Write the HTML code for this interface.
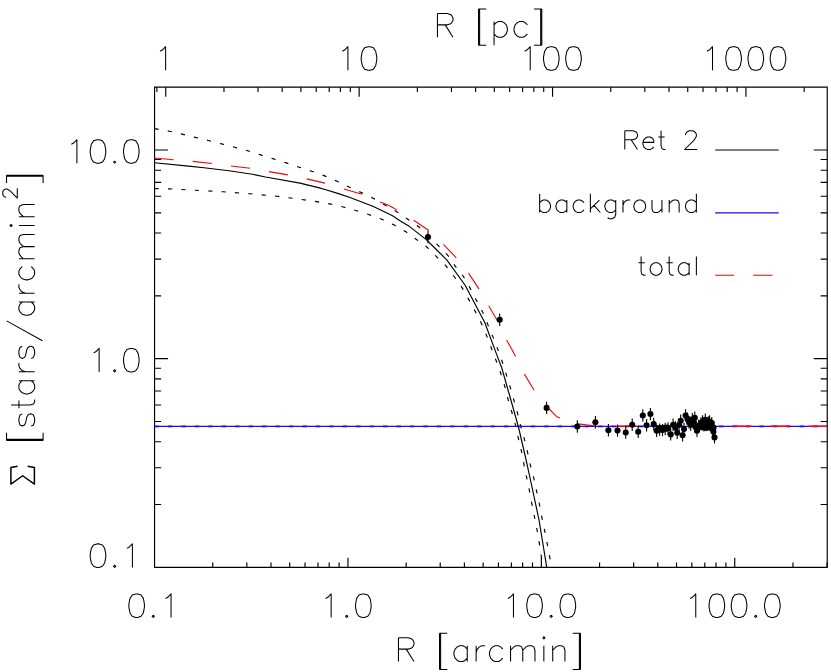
<!DOCTYPE html>
<html><head><meta charset="utf-8"><title>Ret 2 surface density profile</title>
<style>
html,body{margin:0;padding:0;background:#fff;}
body{width:831px;height:672px;overflow:hidden;font-family:"Liberation Sans",sans-serif;}
svg{display:block;}
</style></head><body>
<svg width="831" height="672" viewBox="0 0 831 672">
<g fill="none" stroke="#000" stroke-width="1.05" stroke-linecap="butt" stroke-linejoin="round">
<path d="M160.06 51.21 L162.28 50.09 L165.61 46.73 L165.61 70.25"/>
<path d="M342.36 51.21 L344.58 50.09 L347.91 46.73 L347.91 70.25 M367.89 46.73 L364.56 47.85 L362.34 51.21 L361.23 56.81 L361.23 60.17 L362.34 65.77 L364.56 69.13 L367.89 70.25 L370.11 70.25 L373.44 69.13 L375.66 65.77 L376.77 60.17 L376.77 56.81 L375.66 51.21 L373.44 47.85 L370.11 46.73 L367.89 46.73"/>
<path d="M524.66 51.21 L526.88 50.09 L530.21 46.73 L530.21 70.25 M550.19 46.73 L546.86 47.85 L544.64 51.21 L543.53 56.81 L543.53 60.17 L544.64 65.77 L546.86 69.13 L550.19 70.25 L552.41 70.25 L555.74 69.13 L557.96 65.77 L559.07 60.17 L559.07 56.81 L557.96 51.21 L555.74 47.85 L552.41 46.73 L550.19 46.73 M572.39 46.73 L569.06 47.85 L566.84 51.21 L565.73 56.81 L565.73 60.17 L566.84 65.77 L569.06 69.13 L572.39 70.25 L574.61 70.25 L577.94 69.13 L580.16 65.77 L581.27 60.17 L581.27 56.81 L580.16 51.21 L577.94 47.85 L574.61 46.73 L572.39 46.73"/>
<path d="M706.96 51.21 L709.18 50.09 L712.51 46.73 L712.51 70.25 M732.49 46.73 L729.16 47.85 L726.94 51.21 L725.83 56.81 L725.83 60.17 L726.94 65.77 L729.16 69.13 L732.49 70.25 L734.71 70.25 L738.04 69.13 L740.26 65.77 L741.37 60.17 L741.37 56.81 L740.26 51.21 L738.04 47.85 L734.71 46.73 L732.49 46.73 M754.69 46.73 L751.36 47.85 L749.14 51.21 L748.03 56.81 L748.03 60.17 L749.14 65.77 L751.36 69.13 L754.69 70.25 L756.91 70.25 L760.24 69.13 L762.46 65.77 L763.57 60.17 L763.57 56.81 L762.46 51.21 L760.24 47.85 L756.91 46.73 L754.69 46.73 M776.89 46.73 L773.56 47.85 L771.34 51.21 L770.23 56.81 L770.23 60.17 L771.34 65.77 L773.56 69.13 L776.89 70.25 L779.11 70.25 L782.44 69.13 L784.66 65.77 L785.77 60.17 L785.77 56.81 L784.66 51.21 L782.44 47.85 L779.11 46.73 L776.89 46.73"/>
<path d="M135.54 593.93 L132.21 595.05 L129.99 598.41 L128.88 604.01 L128.88 607.37 L129.99 612.97 L132.21 616.33 L135.54 617.45 L137.76 617.45 L141.09 616.33 L143.31 612.97 L144.42 607.37 L144.42 604.01 L143.31 598.41 L141.09 595.05 L137.76 593.93 L135.54 593.93 M153.3 615.21 L152.19 616.33 L153.3 617.45 L154.41 616.33 L153.3 615.21 M165.51 598.41 L167.73 597.29 L171.06 593.93 L171.06 617.45"/>
<path d="M325.61 598.41 L327.83 597.29 L331.16 593.93 L331.16 617.45 M346.7 615.21 L345.59 616.33 L346.7 617.45 L347.81 616.33 L346.7 615.21 M362.24 593.93 L358.91 595.05 L356.69 598.41 L355.58 604.01 L355.58 607.37 L356.69 612.97 L358.91 616.33 L362.24 617.45 L364.46 617.45 L367.79 616.33 L370.01 612.97 L371.12 607.37 L371.12 604.01 L370.01 598.41 L367.79 595.05 L364.46 593.93 L362.24 593.93"/>
<path d="M507.91 598.41 L510.13 597.29 L513.46 593.93 L513.46 617.45 M533.44 593.93 L530.11 595.05 L527.89 598.41 L526.78 604.01 L526.78 607.37 L527.89 612.97 L530.11 616.33 L533.44 617.45 L535.66 617.45 L538.99 616.33 L541.21 612.97 L542.32 607.37 L542.32 604.01 L541.21 598.41 L538.99 595.05 L535.66 593.93 L533.44 593.93 M551.2 615.21 L550.09 616.33 L551.2 617.45 L552.31 616.33 L551.2 615.21 M566.74 593.93 L563.41 595.05 L561.19 598.41 L560.08 604.01 L560.08 607.37 L561.19 612.97 L563.41 616.33 L566.74 617.45 L568.96 617.45 L572.29 616.33 L574.51 612.97 L575.62 607.37 L575.62 604.01 L574.51 598.41 L572.29 595.05 L568.96 593.93 L566.74 593.93"/>
<path d="M690.21 598.41 L692.43 597.29 L695.76 593.93 L695.76 617.45 M715.74 593.93 L712.41 595.05 L710.19 598.41 L709.08 604.01 L709.08 607.37 L710.19 612.97 L712.41 616.33 L715.74 617.45 L717.96 617.45 L721.29 616.33 L723.51 612.97 L724.62 607.37 L724.62 604.01 L723.51 598.41 L721.29 595.05 L717.96 593.93 L715.74 593.93 M737.94 593.93 L734.61 595.05 L732.39 598.41 L731.28 604.01 L731.28 607.37 L732.39 612.97 L734.61 616.33 L737.94 617.45 L740.16 617.45 L743.49 616.33 L745.71 612.97 L746.82 607.37 L746.82 604.01 L745.71 598.41 L743.49 595.05 L740.16 593.93 L737.94 593.93 M755.7 615.21 L754.59 616.33 L755.7 617.45 L756.81 616.33 L755.7 615.21 M771.24 593.93 L767.91 595.05 L765.69 598.41 L764.58 604.01 L764.58 607.37 L765.69 612.97 L767.91 616.33 L771.24 617.45 L773.46 617.45 L776.79 616.33 L779.01 612.97 L780.12 607.37 L780.12 604.01 L779.01 598.41 L776.79 595.05 L773.46 593.93 L771.24 593.93"/>
<path d="M71.36 144.2 L73.58 143.08 L76.91 139.72 L76.91 163.24 M96.89 139.72 L93.56 140.84 L91.34 144.2 L90.23 149.8 L90.23 153.16 L91.34 158.76 L93.56 162.12 L96.89 163.24 L99.11 163.24 L102.44 162.12 L104.66 158.76 L105.77 153.16 L105.77 149.8 L104.66 144.2 L102.44 140.84 L99.11 139.72 L96.89 139.72 M114.65 161 L113.54 162.12 L114.65 163.24 L115.76 162.12 L114.65 161 M130.19 139.72 L126.86 140.84 L124.64 144.2 L123.53 149.8 L123.53 153.16 L124.64 158.76 L126.86 162.12 L130.19 163.24 L132.41 163.24 L135.74 162.12 L137.96 158.76 L139.07 153.16 L139.07 149.8 L137.96 144.2 L135.74 140.84 L132.41 139.72 L130.19 139.72"/>
<path d="M93.56 352.88 L95.78 351.76 L99.11 348.4 L99.11 371.92 M114.65 369.68 L113.54 370.8 L114.65 371.92 L115.76 370.8 L114.65 369.68 M130.19 348.4 L126.86 349.52 L124.64 352.88 L123.53 358.48 L123.53 361.84 L124.64 367.44 L126.86 370.8 L130.19 371.92 L132.41 371.92 L135.74 370.8 L137.96 367.44 L139.07 361.84 L139.07 358.48 L137.96 352.88 L135.74 349.52 L132.41 348.4 L130.19 348.4"/>
<path d="M96.89 543.88 L93.56 545 L91.34 548.36 L90.23 553.96 L90.23 557.32 L91.34 562.92 L93.56 566.28 L96.89 567.4 L99.11 567.4 L102.44 566.28 L104.66 562.92 L105.77 557.32 L105.77 553.96 L104.66 548.36 L102.44 545 L99.11 543.88 L96.89 543.88 M114.65 565.16 L113.54 566.28 L114.65 567.4 L115.76 566.28 L114.65 565.16 M126.86 548.36 L129.08 547.24 L132.41 543.88 L132.41 567.4"/>
<path d="M437.44 13.57 L437.44 37.3 M437.44 13.57 L447.43 13.57 L450.76 14.7 L451.87 15.83 L452.98 18.09 L452.98 20.35 L451.87 22.61 L450.76 23.74 L447.43 24.87 L437.44 24.87 M445.21 24.87 L452.98 37.3 M478.51 9.05 L478.51 45.21 M479.62 9.05 L479.62 45.21 M478.51 9.05 L486.28 9.05 M478.51 45.21 L486.28 45.21 M494.05 21.48 L494.05 45.21 M494.05 24.87 L496.27 22.61 L498.49 21.48 L501.82 21.48 L504.04 22.61 L506.26 24.87 L507.37 28.26 L507.37 30.52 L506.26 33.91 L504.04 36.17 L501.82 37.3 L498.49 37.3 L496.27 36.17 L494.05 33.91 M527.35 24.87 L525.13 22.61 L522.91 21.48 L519.58 21.48 L517.36 22.61 L515.14 24.87 L514.03 28.26 L514.03 30.52 L515.14 33.91 L517.36 36.17 L519.58 37.3 L522.91 37.3 L525.13 36.17 L527.35 33.91 M540.67 9.05 L540.67 45.21 M541.78 9.05 L541.78 45.21 M534.01 9.05 L541.78 9.05 M534.01 45.21 L541.78 45.21"/>
<path d="M398.44 637.82 L398.44 661.55 M398.44 637.82 L408.43 637.82 L411.76 638.95 L412.87 640.08 L413.98 642.34 L413.98 644.6 L412.87 646.86 L411.76 647.99 L408.43 649.12 L398.44 649.12 M406.21 649.12 L413.98 661.55 M439.51 633.3 L439.51 669.46 M440.62 633.3 L440.62 669.46 M439.51 633.3 L447.28 633.3 M439.51 669.46 L447.28 669.46 M467.26 645.73 L467.26 661.55 M467.26 649.12 L465.04 646.86 L462.82 645.73 L459.49 645.73 L457.27 646.86 L455.05 649.12 L453.94 652.51 L453.94 654.77 L455.05 658.16 L457.27 660.42 L459.49 661.55 L462.82 661.55 L465.04 660.42 L467.26 658.16 M476.14 645.73 L476.14 661.55 M476.14 652.51 L477.25 649.12 L479.47 646.86 L481.69 645.73 L485.02 645.73 M502.78 649.12 L500.56 646.86 L498.34 645.73 L495.01 645.73 L492.79 646.86 L490.57 649.12 L489.46 652.51 L489.46 654.77 L490.57 658.16 L492.79 660.42 L495.01 661.55 L498.34 661.55 L500.56 660.42 L502.78 658.16 M510.55 645.73 L510.55 661.55 M510.55 650.25 L513.88 646.86 L516.1 645.73 L519.43 645.73 L521.65 646.86 L522.76 650.25 L522.76 661.55 M522.76 650.25 L526.09 646.86 L528.31 645.73 L531.64 645.73 L533.86 646.86 L534.97 650.25 L534.97 661.55 M542.74 637.82 L543.85 638.95 L544.96 637.82 L543.85 636.69 L542.74 637.82 M543.85 645.73 L543.85 661.55 M552.73 645.73 L552.73 661.55 M552.73 650.25 L556.06 646.86 L558.28 645.73 L561.61 645.73 L563.83 646.86 L564.94 650.25 L564.94 661.55 M579.37 633.3 L579.37 669.46 M580.48 633.3 L580.48 669.46 M572.71 633.3 L580.48 633.3 M572.71 669.46 L580.48 669.46"/>
<path d="M17.6 466.32 L10.88 467.43 L10.88 484.08 L22.64 475.75 L34.4 484.08 L34.4 467.43 L27.68 466.32" stroke-width="1.5"/>
<path d="M6.54 440.47 L43.1 440.47 M6.54 439.36 L43.1 439.36 M6.54 440.47 L6.54 432.72 M43.1 440.47 L43.1 432.72"/>
<path d="M22.28 413.88 L20.04 414.99 L18.92 418.32 L18.92 421.64 L20.04 424.96 L22.28 426.07 L24.52 424.96 L25.64 422.75 L26.76 417.21 L27.88 414.99 L30.12 413.88 L31.24 413.88 L33.48 414.99 L34.6 418.32 L34.6 421.64 L33.48 424.96 L31.24 426.07 M11.08 405.02 L30.12 405.02 L33.48 403.92 L34.6 401.7 L34.6 399.48 M18.92 408.35 L18.92 400.59 M18.92 380.65 L34.6 380.65 M22.28 380.65 L20.04 382.87 L18.92 385.08 L18.92 388.41 L20.04 390.62 L22.28 392.84 L25.64 393.95 L27.88 393.95 L31.24 392.84 L33.48 390.62 L34.6 388.41 L34.6 385.08 L33.48 382.87 L31.24 380.65 M18.92 371.79 L34.6 371.79 M25.64 371.79 L22.28 370.68 L20.04 368.47 L18.92 366.25 L18.92 362.93 M22.28 346.31 L20.04 347.42 L18.92 350.75 L18.92 354.07 L20.04 357.39 L22.28 358.5 L24.52 357.39 L25.64 355.18 L26.76 349.64 L27.88 347.42 L30.12 346.31 L31.24 346.31 L33.48 347.42 L34.6 350.75 L34.6 354.07 L33.48 357.39 L31.24 358.5 M6.6 320.84 L42.44 340.78 M18.92 302.01 L34.6 302.01 M22.28 302.01 L20.04 304.22 L18.92 306.44 L18.92 309.76 L20.04 311.98 L22.28 314.19 L25.64 315.3 L27.88 315.3 L31.24 314.19 L33.48 311.98 L34.6 309.76 L34.6 306.44 L33.48 304.22 L31.24 302.01 M18.92 293.15 L34.6 293.15 M25.64 293.15 L22.28 292.04 L20.04 289.82 L18.92 287.61 L18.92 284.28 M22.28 266.56 L20.04 268.78 L18.92 270.99 L18.92 274.31 L20.04 276.53 L22.28 278.75 L25.64 279.85 L27.88 279.85 L31.24 278.75 L33.48 276.53 L34.6 274.31 L34.6 270.99 L33.48 268.78 L31.24 266.56 M18.92 258.81 L34.6 258.81 M23.4 258.81 L20.04 255.48 L18.92 253.27 L18.92 249.94 L20.04 247.73 L23.4 246.62 L34.6 246.62 M23.4 246.62 L20.04 243.3 L18.92 241.08 L18.92 237.76 L20.04 235.54 L23.4 234.44 L34.6 234.44 M11.08 226.68 L12.2 225.58 L11.08 224.47 L9.96 225.58 L11.08 226.68 M18.92 225.58 L34.6 225.58 M18.92 216.71 L34.6 216.71 M23.4 216.71 L20.04 213.39 L18.92 211.18 L18.92 207.85 L20.04 205.64 L23.4 204.53 L34.6 204.53"/>
<path d="M6.26 197.34 L5.57 197.34 L4.19 196.65 L3.5 195.96 L2.81 194.58 L2.81 191.82 L3.5 190.44 L4.19 189.75 L5.57 189.06 L6.95 189.06 L8.33 189.75 L10.4 191.13 L17.3 198.03 L17.3 188.37"/>
<path d="M6.54 176.33 L43.1 176.33 M6.54 175.22 L43.1 175.22 M6.54 182.98 L6.54 175.22 M43.1 182.98 L43.1 175.22"/>
<path d="M624.8 130.81 L624.8 149.5 M624.8 130.81 L632.96 130.81 L635.67 131.7 L636.58 132.59 L637.49 134.37 L637.49 136.15 L636.58 137.93 L635.67 138.82 L632.96 139.71 L624.8 139.71 M631.14 139.71 L637.49 149.5 M642.92 142.38 L653.79 142.38 L653.79 140.6 L652.89 138.82 L651.98 137.93 L650.17 137.04 L647.45 137.04 L645.64 137.93 L643.83 139.71 L642.92 142.38 L642.92 144.16 L643.83 146.83 L645.64 148.61 L647.45 149.5 L650.17 149.5 L651.98 148.61 L653.79 146.83 M661.04 130.81 L661.04 145.94 L661.95 148.61 L663.76 149.5 L665.57 149.5 M658.32 137.04 L664.67 137.04 M685.5 135.26 L685.5 134.37 L686.41 132.59 L687.32 131.7 L689.13 130.81 L692.75 130.81 L694.56 131.7 L695.47 132.59 L696.38 134.37 L696.38 136.15 L695.47 137.93 L693.66 140.6 L684.6 149.5 L697.28 149.5"/>
<path d="M539.64 193.81 L539.64 212.5 M539.64 202.71 L541.45 200.93 L543.26 200.04 L545.98 200.04 L547.79 200.93 L549.6 202.71 L550.51 205.38 L550.51 207.16 L549.6 209.83 L547.79 211.61 L545.98 212.5 L543.26 212.5 L541.45 211.61 L539.64 209.83 M566.82 200.04 L566.82 212.5 M566.82 202.71 L565.01 200.93 L563.19 200.04 L560.48 200.04 L558.66 200.93 L556.85 202.71 L555.95 205.38 L555.95 207.16 L556.85 209.83 L558.66 211.61 L560.48 212.5 L563.19 212.5 L565.01 211.61 L566.82 209.83 M584.03 202.71 L582.22 200.93 L580.41 200.04 L577.69 200.04 L575.88 200.93 L574.07 202.71 L573.16 205.38 L573.16 207.16 L574.07 209.83 L575.88 211.61 L577.69 212.5 L580.41 212.5 L582.22 211.61 L584.03 209.83 M590.37 193.81 L590.37 212.5 M599.43 200.04 L590.37 208.94 M594 205.38 L600.34 212.5 M615.74 200.04 L615.74 214.28 L614.84 216.95 L613.93 217.84 L612.12 218.73 L609.4 218.73 L607.59 217.84 M615.74 202.71 L613.93 200.93 L612.12 200.04 L609.4 200.04 L607.59 200.93 L605.78 202.71 L604.87 205.38 L604.87 207.16 L605.78 209.83 L607.59 211.61 L609.4 212.5 L612.12 212.5 L613.93 211.61 L615.74 209.83 M622.99 200.04 L622.99 212.5 M622.99 205.38 L623.9 202.71 L625.71 200.93 L627.52 200.04 L630.24 200.04 M638.39 200.04 L636.58 200.93 L634.77 202.71 L633.86 205.38 L633.86 207.16 L634.77 209.83 L636.58 211.61 L638.39 212.5 L641.11 212.5 L642.92 211.61 L644.73 209.83 L645.64 207.16 L645.64 205.38 L644.73 202.71 L642.92 200.93 L641.11 200.04 L638.39 200.04 M651.98 200.04 L651.98 208.94 L652.89 211.61 L654.7 212.5 L657.42 212.5 L659.23 211.61 L661.95 208.94 M661.95 200.04 L661.95 212.5 M669.2 200.04 L669.2 212.5 M669.2 203.6 L671.91 200.93 L673.73 200.04 L676.44 200.04 L678.26 200.93 L679.16 203.6 L679.16 212.5 M696.38 193.81 L696.38 212.5 M696.38 202.71 L694.56 200.93 L692.75 200.04 L690.03 200.04 L688.22 200.93 L686.41 202.71 L685.5 205.38 L685.5 207.16 L686.41 209.83 L688.22 211.61 L690.03 212.5 L692.75 212.5 L694.56 211.61 L696.38 209.83"/>
<path d="M641.11 256.51 L641.11 271.64 L642.02 274.31 L643.83 275.2 L645.64 275.2 M638.39 262.74 L644.73 262.74 M654.7 262.74 L652.89 263.63 L651.08 265.41 L650.17 268.08 L650.17 269.86 L651.08 272.53 L652.89 274.31 L654.7 275.2 L657.42 275.2 L659.23 274.31 L661.04 272.53 L661.95 269.86 L661.95 268.08 L661.04 265.41 L659.23 263.63 L657.42 262.74 L654.7 262.74 M669.2 256.51 L669.2 271.64 L670.1 274.31 L671.91 275.2 L673.73 275.2 M666.48 262.74 L672.82 262.74 M689.13 262.74 L689.13 275.2 M689.13 265.41 L687.32 263.63 L685.5 262.74 L682.79 262.74 L680.97 263.63 L679.16 265.41 L678.26 268.08 L678.26 269.86 L679.16 272.53 L680.97 274.31 L682.79 275.2 L685.5 275.2 L687.32 274.31 L689.13 272.53 M696.38 256.51 L696.38 275.2"/>
</g>
<g fill="none" stroke="#000" stroke-width="1.15" stroke-linecap="butt">
<path d="M154.55 87.15 H827.25 V567.35 H154.55 Z"/>
<path d="M212.77 567.35v-4.8 M246.83 567.35v-4.8 M270.99 567.35v-4.8 M289.73 567.35v-4.8 M305.04 567.35v-4.8 M317.99 567.35v-4.8 M329.21 567.35v-4.8 M339.1 567.35v-4.8 M347.95 567.35v-9.6 M406.17 567.35v-4.8 M440.23 567.35v-4.8 M464.39 567.35v-4.8 M483.13 567.35v-4.8 M498.44 567.35v-4.8 M511.39 567.35v-4.8 M522.61 567.35v-4.8 M532.5 567.35v-4.8 M541.35 567.35v-9.6 M599.57 567.35v-4.8 M633.63 567.35v-4.8 M657.79 567.35v-4.8 M676.53 567.35v-4.8 M691.84 567.35v-4.8 M704.79 567.35v-4.8 M716.01 567.35v-4.8 M725.9 567.35v-4.8 M734.75 567.35v-9.6 M792.97 567.35v-4.8 M827.03 567.35v-4.8 M156.9 87.15v4.8 M165.75 87.15v9.6 M223.97 87.15v4.8 M258.03 87.15v4.8 M282.19 87.15v4.8 M300.93 87.15v4.8 M316.24 87.15v4.8 M329.19 87.15v4.8 M340.41 87.15v4.8 M350.3 87.15v4.8 M359.15 87.15v9.6 M417.37 87.15v4.8 M451.43 87.15v4.8 M475.59 87.15v4.8 M494.33 87.15v4.8 M509.64 87.15v4.8 M522.59 87.15v4.8 M533.81 87.15v4.8 M543.7 87.15v4.8 M552.55 87.15v9.6 M610.77 87.15v4.8 M644.83 87.15v4.8 M668.99 87.15v4.8 M687.73 87.15v4.8 M703.04 87.15v4.8 M715.99 87.15v4.8 M727.21 87.15v4.8 M737.1 87.15v4.8 M745.95 87.15v9.6 M804.17 87.15v4.8 M154.55 504.53h6.6 M827.25 504.53h-6.6 M154.55 467.78h6.6 M827.25 467.78h-6.6 M154.55 441.71h6.6 M827.25 441.71h-6.6 M154.55 421.49h6.6 M827.25 421.49h-6.6 M154.55 404.97h6.6 M827.25 404.97h-6.6 M154.55 390.99h6.6 M827.25 390.99h-6.6 M154.55 378.89h6.6 M827.25 378.89h-6.6 M154.55 368.22h6.6 M827.25 368.22h-6.6 M154.55 358.67h13.5 M827.25 358.67h-13.5 M154.55 295.85h6.6 M827.25 295.85h-6.6 M154.55 259.1h6.6 M827.25 259.1h-6.6 M154.55 233.03h6.6 M827.25 233.03h-6.6 M154.55 212.81h6.6 M827.25 212.81h-6.6 M154.55 196.29h6.6 M827.25 196.29h-6.6 M154.55 182.31h6.6 M827.25 182.31h-6.6 M154.55 170.21h6.6 M827.25 170.21h-6.6 M154.55 159.54h6.6 M827.25 159.54h-6.6 M154.55 149.99h13.5 M827.25 149.99h-13.5"/>
</g>
<g fill="none" stroke-width="1.15" stroke-linecap="butt" stroke-linejoin="round">
<path d="M154.55 128.6 L169.3 131.2 L181.8 134.1 L195.2 137.4 L208.3 140.5 L221.6 143.9 L234.7 147.2 L247.8 150.8 L260.7 154.9 L273.6 158.9 L286.3 162.9 L299.2 167.2 L311.6 171.2 L324.1 175.6 L336.6 181.1 L349.1 187.06 L361.2 192.5 L373.2 198.3 L396.3 211.5 L407.8 219.2 L419.4 227.3 L438.6 245.8 L448.2 255.8 L455 265.9 L463.1 276 L470 287.9 L476.47 300.4 L482.93 312.6 L488.05 325.1 L493.25 337.6 L498.05 350.1 L502.45 362.2 L506.25 374.4 L510.15 387 L513.95 400.4 L517.45 412.9 L520.8 426.4 L524.3 438.9 L527.6 452.4 L530.4 465.4 L533.9 478.7 L536.8 492.2 L539.7 505.6 L542 518.3 L544.9 531.8 L547.4 544.7 L549.9 558.2 L551.6 567.35" stroke="#000" stroke-dasharray="4.2 9.22"/>
<path d="M154.55 188.6 L169.3 188.9 L196.2 190.3 L223.2 191.8 L250.1 193.8 L277.1 196.3 L301.9 199.5 L316.4 201.6 L329.8 203.9 L343.3 207 L355.8 210.5 L369.3 214.7 L381.8 219.3 L394.3 225.1 L405.9 231.8 L416.5 239.5 L427.1 247.2 L436.7 256.8 L446.4 266.4 L454.5 277 L462.2 287.9 L469.1 300.1 L475.6 312 L481.6 323.7 L486.8 336.1 L491.6 348.8 L496.4 361.3 L500.8 373.5 L504.7 386 L508.1 399.5 L511.8 412 L515.6 425.5 L518.25 438 L521.55 451.5 L524 464.6 L526.8 478.3 L529.5 491.2 L532 504.7 L534.7 517.8 L537.2 530.8 L539.5 544.1 L541.4 557.2 L542.9 567.35" stroke="#000" stroke-dasharray="4.2 9.22"/>
<path d="M154.55 426.35H827.25" stroke="#2a08e8" stroke-opacity="0.6" stroke-width="2.3" stroke-dasharray="4.4 9.04"/>
<path d="M154.55 426.35H827.25" stroke="#2a00ff" stroke-width="1.32"/>
<path d="M154.55 162.75 L188.5 166.1 L204 167.7 L229 170.8 L254 174.55 L265.5 177 L300 183.15 L319.3 187.9 L325 189.45 L338.5 193.6 L350 197.5 L372.86 206.25 L392.1 215.6 L400 220.7 L409.6 226.6 L426.3 239.6 L436.8 250 L446.94 260.05 L465 285 L484.75 322.56 L495.6 351.6 L501.8 368 L510.3 398 L518.2 426 L525 455 L531.35 484 L539.04 520 L546.75 567.35" stroke="#000"/>
<path d="M154.55 158 L173.5 159.7 M192.7 161.4 L212 163.5 M230.9 166 L250.1 168.3 M269 171.6 L287.9 174.9 M306.7 178.9 L325 183.1 M343.9 188.9 L362 194.3 M380 201.9 L388.5 205.3 L392.1 207.3 L396.9 209.9 M413.6 220.3 L429 230.5 M443.4 244.3 L456.3 257.8 M468.5 273.1 L479.1 289.1 M488.7 305.8 L498.3 322.2 M506.6 339.9 L515.7 356.5 M524.4 374.1 L534.1 390.2 M545.5 405 L549.2 409 L555.7 415.7 L557.4 417.1 L559.9 417.9 M577.9 423.9 L595.8 426" stroke="#ff0000" stroke-width="1.08"/>
<path d="M617.5 426.3 L636.6 426.3 M655.7 426.3 L674.8 426.3 M693.9 426.3 L713 426.3 M732.3 426.3 L751.3 426.3 M770.3 426.3 L789.3 426.3 M808.6 426.3 L827.25 426.3" stroke="#ff0000" stroke-width="1.4"/>
<path d="M715.2 150H778.8" stroke="#000"/>
<path d="M715.2 212.8H778.8" stroke="#2a00ff" stroke-width="1.3"/>
<path d="M715.2 275.25H734.1M753.2 275.25H772.5" stroke="#ff0000"/>
</g>
<g stroke="#000" stroke-width="1.1" fill="#000">
<path d="M428 230.8V243.2 M499.7 313.5V325.9 M546.6 401.7V414.1 M577.3 420.3V432.7 M595.4 416.1V428.5 M608.4 424.1V436.5 M617.5 424.4V436.8 M625.7 426.3V438.7 M632.2 418.6V431 M638.2 425.6V438 M642.8 409.3V421.7 M646.6 419.1V431.5 M650.4 407.9V420.3 M653.7 417.8V430.2 M656.6 424.5V436.9 M659.6 423.4V435.8 M662.5 423.9V436.3 M665.2 422.8V435.2 M668 422.3V434.7 M670.7 428.2V440.6 M673.1 418.5V430.9 M675.5 421.2V433.6 M677.2 426.6V439 M679.1 418.5V430.9 M680.7 414.5V426.9 M682.6 429V441.4 M684 422.8V435.2 M685.6 409.3V421.7 M687.4 412.5V424.9 M689.1 416.3V428.7 M690.7 418.5V430.9 M692.3 413.1V425.5 M694.8 411.5V423.9 M695.4 420.7V433.1 M697 424.5V436.9 M698.8 419.6V432 M701 416.9V429.3 M702.6 415.3V427.7 M704 419V431.4 M705.3 413.6V426 M706.9 417.4V429.8 M708.3 416.3V428.7 M709.6 415.3V427.7 M710.7 419V431.4 M711.8 416.9V429.3 M712.9 422.3V434.7 M713.4 425.5V437.9 M714.5 431.2V443.6" fill="none"/>
<circle cx="428" cy="237" r="3.05" stroke="none"/>
<circle cx="499.7" cy="319.7" r="3.05" stroke="none"/>
<circle cx="546.6" cy="407.9" r="3.05" stroke="none"/>
<circle cx="577.3" cy="426.5" r="3.05" stroke="none"/>
<circle cx="595.4" cy="422.3" r="3.05" stroke="none"/>
<circle cx="608.4" cy="430.3" r="3.05" stroke="none"/>
<circle cx="617.5" cy="430.6" r="3.05" stroke="none"/>
<circle cx="625.7" cy="432.5" r="3.05" stroke="none"/>
<circle cx="632.2" cy="424.8" r="3.05" stroke="none"/>
<circle cx="638.2" cy="431.8" r="3.05" stroke="none"/>
<circle cx="642.8" cy="415.5" r="3.05" stroke="none"/>
<circle cx="646.6" cy="425.3" r="3.05" stroke="none"/>
<circle cx="650.4" cy="414.1" r="3.05" stroke="none"/>
<circle cx="653.7" cy="424" r="3.05" stroke="none"/>
<circle cx="656.6" cy="430.7" r="3.05" stroke="none"/>
<circle cx="659.6" cy="429.6" r="3.05" stroke="none"/>
<circle cx="662.5" cy="430.1" r="3.05" stroke="none"/>
<circle cx="665.2" cy="429" r="3.05" stroke="none"/>
<circle cx="668" cy="428.5" r="3.05" stroke="none"/>
<circle cx="670.7" cy="434.4" r="3.05" stroke="none"/>
<circle cx="673.1" cy="424.7" r="3.05" stroke="none"/>
<circle cx="675.5" cy="427.4" r="3.05" stroke="none"/>
<circle cx="677.2" cy="432.8" r="3.05" stroke="none"/>
<circle cx="679.1" cy="424.7" r="3.05" stroke="none"/>
<circle cx="680.7" cy="420.7" r="3.05" stroke="none"/>
<circle cx="682.6" cy="435.2" r="3.05" stroke="none"/>
<circle cx="684" cy="429" r="3.05" stroke="none"/>
<circle cx="685.6" cy="415.5" r="3.05" stroke="none"/>
<circle cx="687.4" cy="418.7" r="3.05" stroke="none"/>
<circle cx="689.1" cy="422.5" r="3.05" stroke="none"/>
<circle cx="690.7" cy="424.7" r="3.05" stroke="none"/>
<circle cx="692.3" cy="419.3" r="3.05" stroke="none"/>
<circle cx="694.8" cy="417.7" r="3.05" stroke="none"/>
<circle cx="695.4" cy="426.9" r="3.05" stroke="none"/>
<circle cx="697" cy="430.7" r="3.05" stroke="none"/>
<circle cx="698.8" cy="425.8" r="3.05" stroke="none"/>
<circle cx="701" cy="423.1" r="3.05" stroke="none"/>
<circle cx="702.6" cy="421.5" r="3.05" stroke="none"/>
<circle cx="704" cy="425.2" r="3.05" stroke="none"/>
<circle cx="705.3" cy="419.8" r="3.05" stroke="none"/>
<circle cx="706.9" cy="423.6" r="3.05" stroke="none"/>
<circle cx="708.3" cy="422.5" r="3.05" stroke="none"/>
<circle cx="709.6" cy="421.5" r="3.05" stroke="none"/>
<circle cx="710.7" cy="425.2" r="3.05" stroke="none"/>
<circle cx="711.8" cy="423.1" r="3.05" stroke="none"/>
<circle cx="712.9" cy="428.5" r="3.05" stroke="none"/>
<circle cx="713.4" cy="431.7" r="3.05" stroke="none"/>
<circle cx="714.5" cy="437.4" r="3.05" stroke="none"/>
<circle cx="703" cy="427.5" r="3.05" stroke="none"/>
<circle cx="706" cy="428" r="3.05" stroke="none"/>
<circle cx="709" cy="427.6" r="3.05" stroke="none"/>
<circle cx="711.5" cy="427" r="3.05" stroke="none"/>
<circle cx="701" cy="427.2" r="3.05" stroke="none"/>
<circle cx="713.6" cy="427.6" r="3.05" stroke="none"/>
<circle cx="691.5" cy="424" r="3.05" stroke="none"/>
<circle cx="694" cy="422.5" r="3.05" stroke="none"/>
<circle cx="707.5" cy="420.8" r="3.05" stroke="none"/>
<circle cx="658.6" cy="428.3" r="3.05" stroke="none"/>
<circle cx="661.5" cy="428" r="3.05" stroke="none"/>
<circle cx="664.3" cy="427.8" r="3.05" stroke="none"/>
<circle cx="667.2" cy="427.5" r="3.05" stroke="none"/>
</g>
</svg>
</body></html>
